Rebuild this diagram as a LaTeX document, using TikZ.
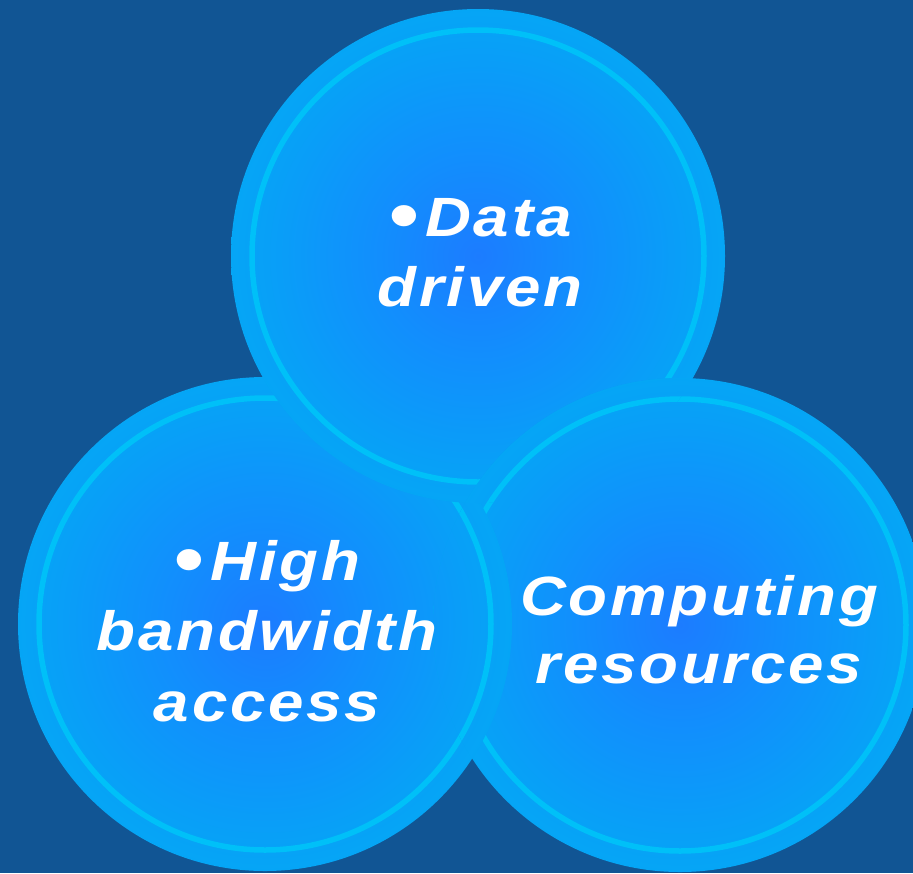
\documentclass[tikz,border=0pt]{standalone}
\usepackage{fontspec}
\setmainfont{Liberation Sans}
\newfontfamily\bubblefont[FakeStretch=1.15, LetterSpace=5]{Liberation Sans}
\usepackage{tikz}

\definecolor{bgblue}{RGB}{17,85,148}
\definecolor{bubcore}{RGB}{28,124,255}
\definecolor{bubin}{RGB}{18,142,253}
\definecolor{bubmid}{RGB}{6,164,246}
\definecolor{bubrim}{RGB}{0,178,241}
\definecolor{bubring}{RGB}{0,192,248}

% circle edge sits at 35.4bp of the shading
\pgfdeclareradialshading{bubble}{\pgfpoint{0bp}{0bp}}{color(0bp)=(bubcore); color(10bp)=(bubin); color(24bp)=(bubmid); color(32.5bp)=(bubrim); color(50bp)=(bubrim)}

\newcommand{\bul}{\raisebox{-2pt}{\fontsize{42}{40}\selectfont•}\kern4pt}

\tikzset{
    disc/.style={shading=bubble},
    discring/.style={draw=bubring, line width=0.11cm},
    label/.style={text=white, align=center, inner sep=0pt,
        font=\bubblefont\fontsize{31.5}{40}\selectfont\bfseries\itshape}
}

\begin{document}
\begin{tikzpicture}[x=0.02cm, y=-0.02cm]
        \fill[bgblue] (0, 0) rectangle (913, 873);
        \useasboundingbox (0, 0) rectangle (913, 873);

        \shade[disc] (265, 624) circle (247);
        \draw[discring] (265, 624) circle (226);

        \shade[disc] (478, 256) circle (247);
        \draw[discring] (478, 256) circle (226);

        \shade[disc] (680, 625) circle (247);
        \draw[discring] (680, 625) circle (226);

        % left lies over right, except where all three meet
        \begin{scope}
            \clip (680, 625) circle (247);
            \shade[disc] (265, 624) circle (247);
            \draw[discring] (265, 624) circle (226);
            \clip (478, 256) circle (247);
            \shade[disc] (680, 625) circle (247);
            \draw[discring] (680, 625) circle (226);
        \end{scope}

        \node[label] (data) at (480, 253) {\bul Data\\driven};
        \node[label] (bandwidth) at (267, 631) {\bul High\\bandwidth\\access};
        \node[label, font=\bubblefont\fontsize{31.5}{38.5}\selectfont\bfseries\itshape] (computing) at (699, 630) {Computing\\resources};
    \end{tikzpicture}
\end{document}
